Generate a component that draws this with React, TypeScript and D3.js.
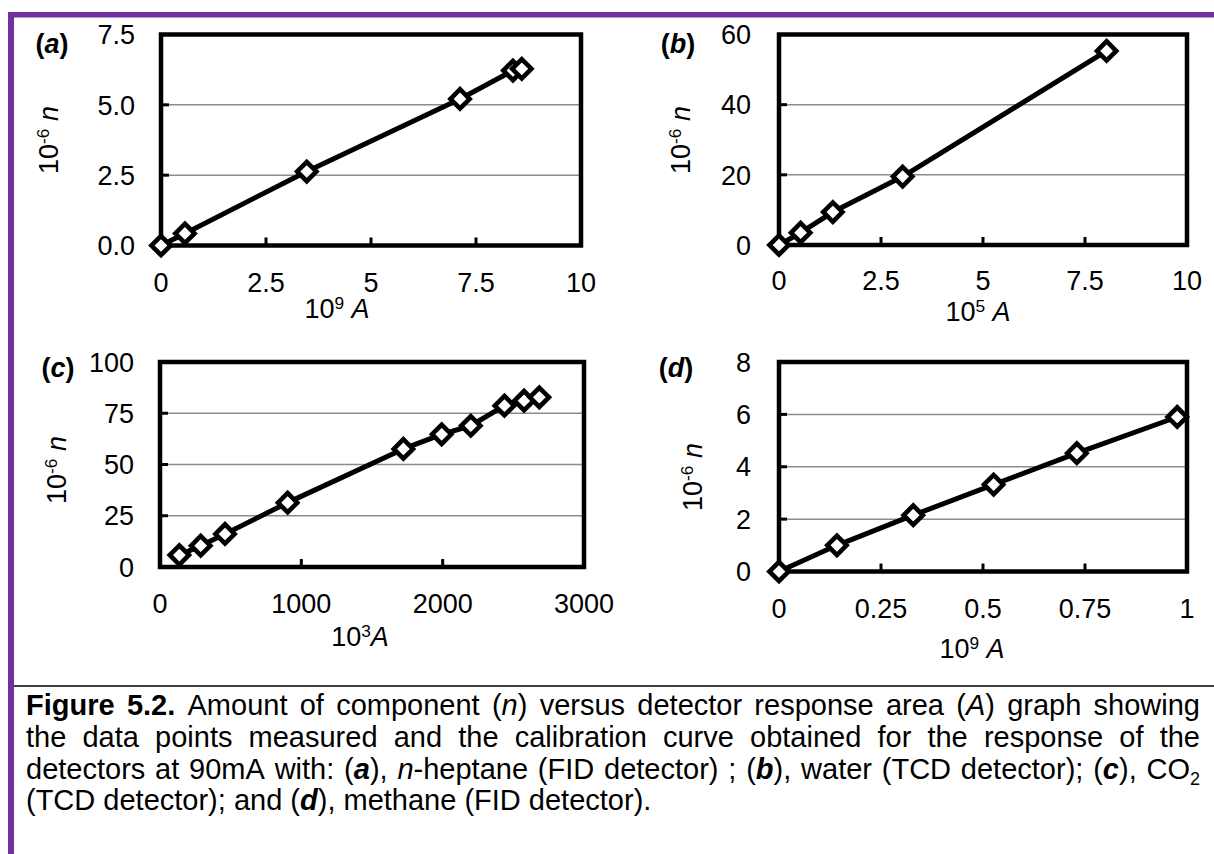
import React, { useEffect, useRef } from 'react';
import * as d3 from 'd3';

const FONT = '"Liberation Sans", Arial, Helvetica, sans-serif';
const PURPLE = '#7030a0';

// (a) n-heptane, FID detector: 10^9 A vs 10^-6 n
const heptaneArea = [0, 0.57, 3.47, 7.12, 8.38, 8.59];
const heptaneAmount = [0, 0.43, 2.63, 5.21, 6.22, 6.28];

// (b) water, TCD detector: 10^5 A vs 10^-6 n
const waterArea = [0, 0.53, 1.32, 3.03, 8.03];
const waterAmount = [0, 3.5, 9.4, 19.5, 55.3];

// (c) CO2, TCD detector: 10^3 A vs 10^-6 n
const co2Area = [137, 288, 460, 903, 1722, 1993, 2199, 2437, 2576, 2684];
const co2Amount = [5.8, 10.4, 16.1, 31.4, 57.6, 64.7, 68.9, 78.7, 81.1, 82.8];

// (d) methane, FID detector: 10^9 A vs 10^-6 n
const methaneArea = [0, 0.142, 0.329, 0.526, 0.73, 0.976];
const methaneAmount = [0, 1.0, 2.15, 3.32, 4.52, 5.9];

// tick values and their printed labels
const xTicksAB = [0, 2.5, 5, 7.5, 10];
const xLabelsAB = ['0', '2.5', '5', '7.5', '10'];
const yTicksA = [0, 2.5, 5, 7.5];
const yLabelsA = ['0.0', '2.5', '5.0', '7.5'];
const yTicksB = [0, 20, 40, 60];
const yLabelsB = ['0', '20', '40', '60'];
const xTicksC = [0, 1000, 2000, 3000];
const xLabelsC = ['0', '1000', '2000', '3000'];
const yTicksC = [0, 25, 50, 75, 100];
const yLabelsC = ['0', '25', '50', '75', '100'];
const xTicksD = [0, 0.25, 0.5, 0.75, 1];
const xLabelsD = ['0', '0.25', '0.5', '0.75', '1'];
const yTicksD = [0, 2, 4, 6, 8];
const yLabelsD = ['0', '2', '4', '6', '8'];

const captionLines = [
  '{b:Figure} {b:5.2.} Amount of component ({i:n}) versus detector response area ({i:A}) graph showing',
  'the data points measured and the calibration curve obtained for the response of the',
  'detectors at 90mA with: ({bi:a}), {i:n}-heptane (FID detector) ; ({bi:b}), water (TCD detector); ({bi:c}), CO{sub:2}',
  '(TCD detector); and ({bi:d}), methane (FID detector).',
];

type Seg = { t: string; b?: boolean; i?: boolean; sup?: boolean; sub?: boolean };

function parseWord(w: string): Seg[] {
  const out: Seg[] = [];
  const re = /\{(b|i|bi|sub|sup):([^}]*)\}|([^{]+)/g;
  let m: RegExpExecArray | null;
  while ((m = re.exec(w))) {
    if (m[3] !== undefined) out.push({ t: m[3] });
    else {
      const k = m[1];
      out.push({
        t: m[2],
        b: k === 'b' || k === 'bi',
        i: k === 'i' || k === 'bi',
        sub: k === 'sub',
        sup: k === 'sup',
      });
    }
  }
  return out;
}

function rich(t: any, segs: Seg[], size: number) {
  let shift = 0;
  segs.forEach((s) => {
    const ts = t.append('tspan').text(s.t);
    if (s.b) ts.attr('font-weight', 'bold');
    if (s.i) ts.attr('font-style', 'italic');
    let target = 0;
    if (s.sup) {
      ts.attr('font-size', size * 0.64);
      target = -size * 0.34;
    }
    if (s.sub) {
      ts.attr('font-size', size * 0.62);
      target = size * 0.22;
    }
    if (target !== shift) {
      ts.attr('dy', target - shift);
      shift = target;
    }
  });
}

type Panel = {
  tag: string;
  xs: number[];
  ys: number[];
  xDomain: [number, number];
  yDomain: [number, number];
  xTicks: number[];
  xLabels: string[];
  yTicks: number[];
  yLabels: string[];
  left: number;
  right: number;
  top: number;
  bottom: number;
  yLabelRight: number;
  xLabelY: number;
  tagPos: [number, number];
  yTitlePos: [number, number];
  xTitlePos: [number, number];
  xTitle: Seg[];
};

const FS = 27;

function drawPanel(g: any, p: Panel) {
  const x = d3.scaleLinear().domain(p.xDomain).range([p.left, p.right]);
  const y = d3.scaleLinear().domain(p.yDomain).range([p.bottom, p.top]);
  const innerY = p.yTicks.filter((v) => v > p.yDomain[0] && v < p.yDomain[1]);
  const innerX = p.xTicks.filter((v) => v > p.xDomain[0] && v < p.xDomain[1]);

  g.selectAll('line.grid')
    .data(innerY)
    .join('line')
    .attr('class', 'grid')
    .attr('x1', p.left)
    .attr('x2', p.right)
    .attr('y1', (d: number) => y(d))
    .attr('y2', (d: number) => y(d))
    .attr('stroke', '#8c8c8c')
    .attr('stroke-width', 1.5);

  g.selectAll('line.yt')
    .data(innerY)
    .join('line')
    .attr('class', 'yt')
    .attr('x1', p.left)
    .attr('x2', p.left + 8)
    .attr('y1', (d: number) => y(d))
    .attr('y2', (d: number) => y(d))
    .attr('stroke', '#000')
    .attr('stroke-width', 3);

  g.selectAll('line.xt')
    .data(innerX)
    .join('line')
    .attr('class', 'xt')
    .attr('x1', (d: number) => x(d))
    .attr('x2', (d: number) => x(d))
    .attr('y1', p.bottom)
    .attr('y2', p.bottom - 8)
    .attr('stroke', '#000')
    .attr('stroke-width', 3);

  g.append('rect')
    .attr('x', p.left)
    .attr('y', p.top)
    .attr('width', p.right - p.left)
    .attr('height', p.bottom - p.top)
    .attr('fill', 'none')
    .attr('stroke', '#000')
    .attr('stroke-width', 4.5);

  const pts: [number, number][] = p.xs.map((v, i) => [v, p.ys[i]]);
  const line = d3
    .line<[number, number]>()
    .x((d) => x(d[0]))
    .y((d) => y(d[1]));
  g.append('path')
    .attr('d', line(pts))
    .attr('fill', 'none')
    .attr('stroke', '#000')
    .attr('stroke-width', 5)
    .attr('stroke-linejoin', 'round');

  const diamond = d3.symbol().type(d3.symbolSquare).size(185);
  g.selectAll('path.mk')
    .data(pts)
    .join('path')
    .attr('class', 'mk')
    .attr('d', diamond())
    .attr('transform', (d: [number, number]) => `translate(${x(d[0])},${y(d[1])}) rotate(45)`)
    .attr('fill', '#fff')
    .attr('stroke', '#000')
    .attr('stroke-width', 4.6);

  g.selectAll('text.yl')
    .data(p.yTicks)
    .join('text')
    .attr('class', 'yl')
    .attr('x', p.yLabelRight)
    .attr('y', (d: number) => y(d))
    .attr('dy', '0.36em')
    .attr('text-anchor', 'end')
    .attr('font-size', FS)
    .text((_: number, i: number) => p.yLabels[i]);

  g.selectAll('text.xl')
    .data(p.xTicks)
    .join('text')
    .attr('class', 'xl')
    .attr('x', (d: number) => x(d))
    .attr('y', p.xLabelY)
    .attr('dy', '0.36em')
    .attr('text-anchor', 'middle')
    .attr('font-size', FS)
    .text((_: number, i: number) => p.xLabels[i]);

  // panel tag, e.g. "(a)"
  const tag = g
    .append('text')
    .attr('x', p.tagPos[0])
    .attr('y', p.tagPos[1])
    .attr('dy', '0.36em')
    .attr('text-anchor', 'middle')
    .attr('font-size', FS)
    .attr('font-weight', 'bold');
  rich(tag, [{ t: '(' }, { t: p.tag, b: true, i: true }, { t: ')' }], FS);

  // y axis title
  const yt = g
    .append('text')
    .attr('transform', `translate(${p.yTitlePos[0]},${p.yTitlePos[1]}) rotate(-90)`)
    .attr('y', FS * 0.36)
    .attr('text-anchor', 'middle')
    .attr('font-size', FS);
  rich(yt, [{ t: '10' }, { t: '-6', sup: true }, { t: ' ' }, { t: 'n', i: true }], FS);

  // x axis title
  const xt = g
    .append('text')
    .attr('x', p.xTitlePos[0])
    .attr('y', p.xTitlePos[1])
    .attr('dy', '0.36em')
    .attr('text-anchor', 'middle')
    .attr('font-size', FS);
  rich(xt, p.xTitle, FS);
}

function drawCaption(g: any) {
  const size = 29;
  const left = 26;
  const right = 1200;
  const baselines = [715, 747, 779, 810];
  const space = size * 0.278;
  captionLines.forEach((ln, li) => {
    const words = ln.split(' ').map(parseWord);
    const nodes = words.map((segs) => {
      const t = g.append('text').attr('x', 0).attr('y', baselines[li]).attr('font-size', size);
      rich(t, segs, size);
      return t;
    });
    const widths = nodes.map((t: any) => (t.node() as SVGTextElement).getComputedTextLength());
    const total = d3.sum(widths);
    const justify = li < captionLines.length - 1;
    const gap = justify ? (right - left - total) / (words.length - 1) : space;
    let cx = left;
    nodes.forEach((t: any, i: number) => {
      t.attr('x', cx);
      cx += widths[i] + gap;
    });
  });
}

const panels: Panel[] = [
  {
    tag: 'a',
    xs: heptaneArea,
    ys: heptaneAmount,
    xDomain: [0, 10],
    yDomain: [0, 7.5],
    xTicks: xTicksAB,
    xLabels: xLabelsAB,
    yTicks: yTicksA,
    yLabels: yLabelsA,
    left: 161,
    right: 581,
    top: 34.5,
    bottom: 245.5,
    yLabelRight: 135,
    xLabelY: 282,
    tagPos: [52, 43],
    yTitlePos: [48, 140],
    xTitlePos: [337, 308],
    xTitle: [{ t: '10' }, { t: '9', sup: true }, { t: ' ' }, { t: 'A', i: true }],
  },
  {
    tag: 'b',
    xs: waterArea,
    ys: waterAmount,
    xDomain: [0, 10],
    yDomain: [0, 60],
    xTicks: xTicksAB,
    xLabels: xLabelsAB,
    yTicks: yTicksB,
    yLabels: yLabelsB,
    left: 779,
    right: 1187,
    top: 34.5,
    bottom: 245,
    yLabelRight: 751,
    xLabelY: 280,
    tagPos: [678, 43],
    yTitlePos: [680, 140],
    xTitlePos: [978, 311],
    xTitle: [{ t: '10' }, { t: '5', sup: true }, { t: ' ' }, { t: 'A', i: true }],
  },
  {
    tag: 'c',
    xs: co2Area,
    ys: co2Amount,
    xDomain: [0, 3000],
    yDomain: [0, 100],
    xTicks: xTicksC,
    xLabels: xLabelsC,
    yTicks: yTicksC,
    yLabels: yLabelsC,
    left: 160,
    right: 584,
    top: 362,
    bottom: 567,
    yLabelRight: 134,
    xLabelY: 603,
    tagPos: [58, 367],
    yTitlePos: [56, 470],
    xTitlePos: [360, 636],
    xTitle: [{ t: '10' }, { t: '3', sup: true }, { t: 'A', i: true }],
  },
  {
    tag: 'd',
    xs: methaneArea,
    ys: methaneAmount,
    xDomain: [0, 1],
    yDomain: [0, 8],
    xTicks: xTicksD,
    xLabels: xLabelsD,
    yTicks: yTicksD,
    yLabels: yLabelsD,
    left: 779,
    right: 1187,
    top: 362,
    bottom: 571.5,
    yLabelRight: 751,
    xLabelY: 608,
    tagPos: [676, 367],
    yTitlePos: [692, 477],
    xTitlePos: [972, 648],
    xTitle: [{ t: '10' }, { t: '9', sup: true }, { t: ' ' }, { t: 'A', i: true }],
  },
];

export default function App() {
  const ref = useRef<SVGSVGElement>(null);

  useEffect(() => {
    const svg = d3.select(ref.current);
    svg.selectAll('*').remove();
    svg.attr('font-family', FONT);

    svg.append('rect').attr('width', 1214).attr('height', 854).attr('fill', '#fff');
    // purple frame: top rule and left rule
    svg.append('rect').attr('x', 8).attr('y', 12).attr('width', 1206).attr('height', 5.5).attr('fill', PURPLE);
    svg.append('rect').attr('x', 8).attr('y', 12).attr('width', 6).attr('height', 842).attr('fill', PURPLE);
    // rule between figure and caption
    svg
      .append('line')
      .attr('x1', 14)
      .attr('x2', 1214)
      .attr('y1', 686)
      .attr('y2', 686)
      .attr('stroke', '#000')
      .attr('stroke-width', 1.5);

    panels.forEach((p) => drawPanel(svg.append('g'), p));
    drawCaption(svg.append('g'));
  }, []);

  return (
    <svg
      ref={ref}
      width={1214}
      height={854}
      style={{ position: 'absolute', left: 0, top: 0, display: 'block' }}
    />
  );
}
